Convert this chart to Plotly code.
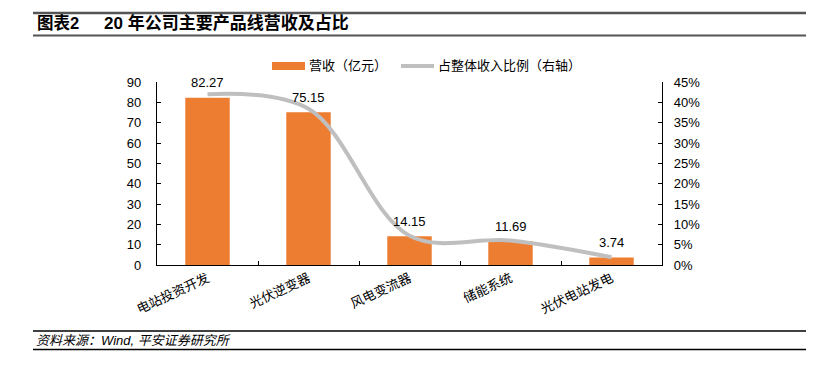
import plotly.graph_objects as go

categories = ["电站投资开发", "光伏逆变器", "风电变流器", "储能系统", "光伏电站发电"]
revenue = [82.27, 75.15, 14.15, 11.69, 3.74]
share = [0.420, 0.384, 0.072, 0.060, 0.019]
y_ticks = [0, 10, 20, 30, 40, 50, 60, 70, 80, 90]
y2_ticks = [0, 0.05, 0.10, 0.15, 0.20, 0.25, 0.30, 0.35, 0.40, 0.45]
y2_labels = ["0%", "5%", "10%", "15%", "20%", "25%", "30%", "35%", "40%", "45%"]

# the page body adds an 8px margin; compensate
OFF = 8
W, H = 820 - OFF, 367 - OFF
L, R, T, B = 157 - OFF, 662 - OFF, 82 - OFF, 265 - OFF
FONT = "Liberation Sans, Arial, Noto Sans CJK SC, sans-serif"


def px(x):
    return (x - OFF - L) / (R - L)


def py(y):
    return (B - (y - OFF)) / (B - T)


fig = go.Figure()
fig.add_trace(go.Bar(
    x=categories, y=revenue, name="营收（亿元）",
    marker=dict(color="#ED7D31", line=dict(width=0)),
    cliponaxis=False, yaxis="y",
))
fig.add_trace(go.Scatter(
    x=categories, y=share, name="占整体收入比例（右轴）", mode="lines",
    line=dict(color="#BFBFBF", width=4, shape="spline", smoothing=1.0),
    yaxis="y2", cliponaxis=False,
))

shapes = []
# header rules
shapes.append(dict(type="line", xref="paper", yref="paper", x0=px(33), x1=px(806), y0=py(13), y1=py(13),
                   line=dict(color="#555555", width=2.5)))
shapes.append(dict(type="line", xref="paper", yref="paper", x0=px(33), x1=px(806), y0=py(35.5), y1=py(35.5),
                   line=dict(color="#555555", width=2)))
# footer rules
shapes.append(dict(type="line", xref="paper", yref="paper", x0=px(33), x1=px(806), y0=py(331), y1=py(331),
                   line=dict(color="#000000", width=1.5)))
shapes.append(dict(type="line", xref="paper", yref="paper", x0=px(33), x1=px(806), y0=py(349.5), y1=py(349.5),
                   line=dict(color="#000000", width=1.5)))
# legend markers
shapes.append(dict(type="rect", xref="paper", yref="paper", x0=px(272), x1=px(305), y0=py(62), y1=py(70),
                   fillcolor="#ED7D31", line=dict(width=0)))
shapes.append(dict(type="line", xref="paper", yref="paper", x0=px(401), x1=px(434), y0=py(66), y1=py(66),
                   line=dict(color="#BFBFBF", width=4)))

annotations = [
    dict(text="<b>图表2</b>", x=px(35), y=py(23), xref="paper", yref="paper", xanchor="left", yanchor="middle",
         showarrow=False, font=dict(size=16.5, color="#000000", family=FONT)),
    dict(text="<b>20 年公司主要产品线营收及占比</b>", x=px(102), y=py(23), xref="paper", yref="paper",
         xanchor="left", yanchor="middle", showarrow=False, font=dict(size=17, color="#000000", family=FONT)),
    dict(text="<i>资料来源：Wind, 平安证券研究所</i>", x=px(34), y=py(340.5), xref="paper", yref="paper",
         xanchor="left", yanchor="middle", showarrow=False, font=dict(size=13, color="#000000", family=FONT)),
    dict(text="营收（亿元）", x=px(307), y=py(66), xref="paper", yref="paper", xanchor="left", yanchor="middle",
         showarrow=False, font=dict(size=13, color="#000000", family=FONT)),
    dict(text="占整体收入比例（右轴）", x=px(436), y=py(66), xref="paper", yref="paper", xanchor="left",
         yanchor="middle", showarrow=False, font=dict(size=13, color="#000000", family=FONT)),
]
# value labels above bars
for c, v in zip(categories, revenue):
    annotations.append(dict(text=f"{v:.2f}", x=c, y=v, xref="x", yref="y", xanchor="center",
                            yanchor="middle", yshift=15, showarrow=False,
                            font=dict(size=13, color="#000000", family=FONT)))

fig.update_layout(
    width=W, height=H,
    margin=dict(l=L, r=W - R, t=T, b=H - B, pad=0, autoexpand=False),
    paper_bgcolor="white", plot_bgcolor="white",
    showlegend=False,
    bargap=0.56,
    font=dict(family=FONT, size=13, color="#000000"),
    shapes=shapes, annotations=annotations,
    xaxis=dict(
        type="category", showline=True, linecolor="#000000", linewidth=1.2,
        ticks="inside", ticklen=4, tickcolor="#000000", tickson="boundaries",
        tickangle=-25, tickfont=dict(size=13, family=FONT), showgrid=False, zeroline=False,
    ),
    yaxis=dict(
        range=[0, 90], tickvals=y_ticks, showline=True, linecolor="#000000", linewidth=1.2,
        ticks="inside", ticklen=4, tickcolor="#000000", showgrid=False, zeroline=False,
        tickfont=dict(size=13, family=FONT), ticklabelstandoff=12,
    ),
    yaxis2=dict(
        range=[0, 0.45], tickvals=y2_ticks, ticktext=y2_labels, overlaying="y", side="right",
        showline=True, linecolor="#000000", linewidth=1.2, ticks="inside", ticklen=4,
        tickcolor="#000000", showgrid=False, zeroline=False,
        tickfont=dict(size=13, family=FONT), ticklabelstandoff=8,
    ),
)

fig.write_html("out.html")
